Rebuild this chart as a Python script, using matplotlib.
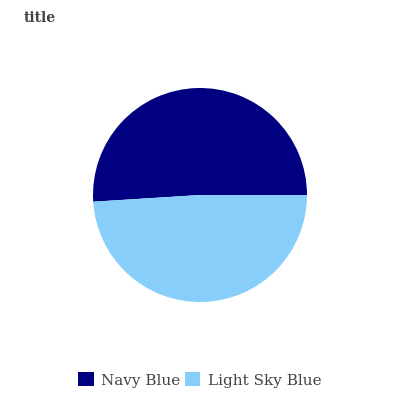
import matplotlib.pyplot as plt
from matplotlib.patches import Patch

# data
labels = ['Navy Blue', 'Light Sky Blue']
values = [51, 49]
colors = ['#000080', '#87CEFA']

fig = plt.figure(figsize=(4, 4), dpi=100)
ax = fig.add_axes([0.2325, 0.245, 0.535, 0.535])
ax.pie(values, colors=colors, startangle=0, counterclock=True)
ax.set_xlim(-1, 1)
ax.set_ylim(-1, 1)
ax.set_aspect('equal')

fig.text(0.06, 0.955, 'title', fontsize=10, fontweight='bold',
         family='DejaVu Serif', color='#444444', va='center')

handles = [Patch(facecolor=c, edgecolor='none') for c in colors]
fig.legend(handles, labels, loc='center', bbox_to_anchor=(0.5, 0.05), ncol=2,
           frameon=False, handlelength=1.0, handleheight=1.0, handletextpad=0.5,
           columnspacing=0.3, prop={'family': 'DejaVu Serif', 'size': 11},
           labelcolor='#444444')

plt.savefig('out.png')
plt.close()
